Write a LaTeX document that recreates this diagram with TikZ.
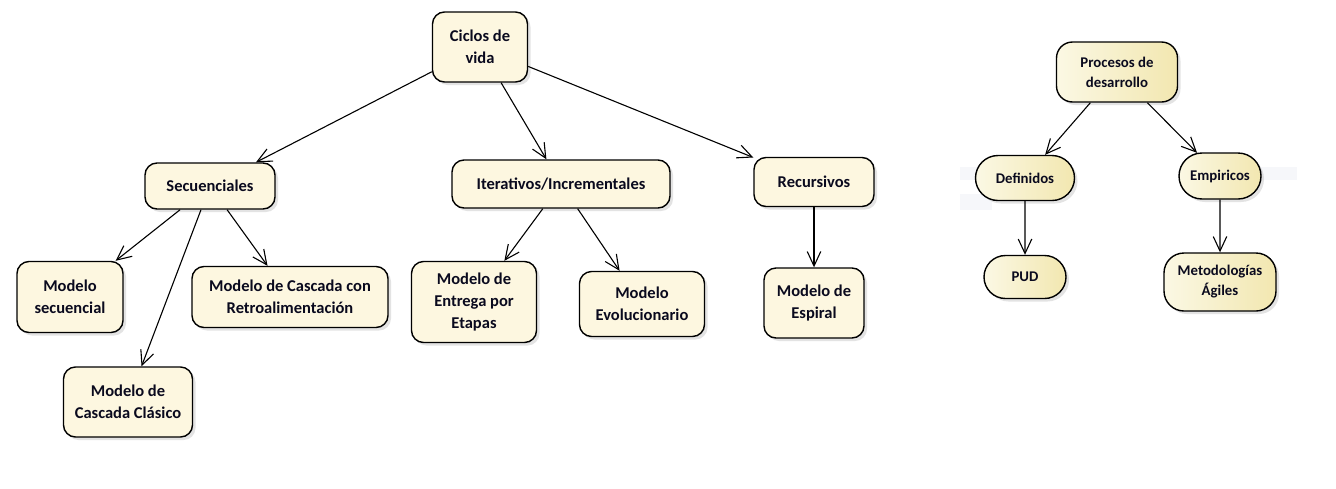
\documentclass[tikz,border=0pt]{standalone}
\usepackage{fontspec}
\setmainfont{Carlito}
\usetikzlibrary{arrows.meta,shadows,shapes.misc}
\definecolor{crema}{HTML}{FDF7E0}
\definecolor{cremaA}{HTML}{FBF8E4}
\definecolor{cremaB}{HTML}{F2E7B0}
\definecolor{banda}{HTML}{F6F7FA}
\definecolor{tinta}{HTML}{0A0A1E}

\begin{document}
\begin{tikzpicture}[x=1pt,y=-1pt,
  caja/.style={draw=black, line width=1.4pt, fill=crema, rounded corners=12pt,
    align=center, inner sep=0pt, text=tinta, font=\fontsize{16.5}{22}\selectfont\bfseries,
    drop shadow={opacity=0.22, shadow xshift=3pt, shadow yshift=-3pt}},
  proc/.style={draw=black, line width=1.4pt, left color=cremaA, right color=cremaB,
    align=center, inner sep=0pt, text=tinta, font=\fontsize{14.8}{20}\selectfont\bfseries,
    drop shadow={opacity=0.22, shadow xshift=3pt, shadow yshift=-3pt}},
  flecha/.style={-{Straight Barb[angle=50:16pt]}, line width=1.1pt}]
\useasboundingbox (0,0) rectangle (1336,488);
\fill[white] (0,0) rectangle (1336,488);
\fill[banda] (960,167) rectangle (990,180);
\fill[banda] (960,194) rectangle (992,210);
\fill[banda] (1255,167) rectangle (1297,180);

\node[caja, minimum width=95, minimum height=70] (ciclos) at (480,47) {Ciclos de\\vida};
\node[caja, minimum width=130, minimum height=46] (secuen) at (210,186) {Secuenciales};
\node[caja, minimum width=218, minimum height=48] (iter) at (561,184) {Iterativos/Incrementales};
\node[caja, minimum width=120, minimum height=49] (recur) at (814,182) {Recursivos};
\node[caja, minimum width=106, minimum height=71] (msec) at (70,297) {Modelo\\secuencial};
\node[caja, minimum width=196, minimum height=61] (mcasret) at (290,297) {Modelo de Cascada con\\Retroalimentación};
\node[caja, minimum width=129, minimum height=70] (mcascl) at (128,402) {Modelo de\\Cascada Clásico};
\node[caja, minimum width=125, minimum height=81] (mentrega) at (474,302) {Modelo de\\Entrega por\\Etapas};
\node[caja, minimum width=125, minimum height=65] (mevol) at (642,304) {Modelo\\Evolucionario};
\node[caja, minimum width=100, minimum height=70] (mespiral) at (814,303) {Modelo de\\Espiral};

\node[proc, rounded corners=16pt, minimum width=121, minimum height=60] (procesos) at (1117,72) {Procesos de\\desarrollo};
\node[proc, rounded rectangle, minimum width=99, minimum height=45] (definidos) at (1025,178) {Definidos};
\node[proc, rounded rectangle, minimum width=82, minimum height=46] (empiricos) at (1220,176) {Empiricos};
\node[proc, rounded rectangle, minimum width=82, minimum height=43] (pud) at (1025,277) {PUD};
\node[proc, rounded corners=20pt, minimum width=112, minimum height=58] (metod) at (1220,282) {Metodologías\\Ágiles};

\draw[flecha] (ciclos) -- (secuen);
\draw[flecha] (ciclos) -- (iter);
\draw[flecha] (ciclos) -- (recur);
\draw[flecha] (secuen) -- (msec);
\draw[flecha] (secuen) -- (mcascl);
\draw[flecha] (secuen) -- (mcasret);
\draw[flecha] (iter) -- (mentrega);
\draw[flecha] (iter) -- (mevol);
\draw[flecha] (recur) -- (mespiral);
\draw[flecha] (procesos) -- (definidos);
\draw[flecha] (procesos) -- (empiricos);
\draw[flecha] (definidos) -- (pud);
\draw[flecha] (empiricos) -- (metod);
\end{tikzpicture}
\end{document}
